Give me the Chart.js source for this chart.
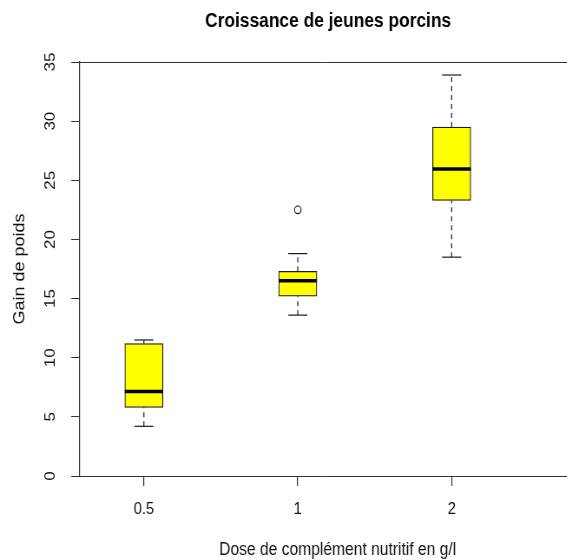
<!DOCTYPE html>
<html>
<head>
<meta charset="utf-8">
<script src="https://cdn.jsdelivr.net/npm/chart.js@4/dist/chart.umd.min.js"></script>
<style>
  html, body { margin: 0; padding: 0; background: #ffffff; overflow: hidden; }
  #wrap { position: absolute; left: 0; top: 0; width: 567px; height: 560px; overflow: hidden; }
  #c { display: block; transform: scaleX(0.868); transform-origin: 0 0; }
</style>
</head>
<body>
<div id="wrap"><canvas id="c" width="653" height="560"></canvas></div>
<script>
// Growth per supplement dose: five-number summaries of each group
const doses = ['0.5', '1', '2'];
const groupPos = [1, 2, 3];
const lowerWhisker = [4.2, 13.6, 18.5];
const lowerHinge = [5.8, 15.2, 23.3];
const medians = [7.15, 16.5, 25.95];
const upperHinge = [11.2, 17.3, 29.5];
const upperWhisker = [11.5, 18.8, 33.9];
const outlierPos = [2];
const outlierValue = [22.5];
const yTicks = [0, 5, 10, 15, 20, 25, 30, 35];

const FONT = "'Liberation Sans', Arial, Helvetica, sans-serif";
const INK = '#1a1a1a';
const AXIS = '#333333';
const BOX_W = 44;    // box width in canvas px
const CAP_HALF = 11; // half width of whisker caps

// whisker segments, split by null points so each group is its own segment
function whiskerSegments(from, to) {
  const pts = [];
  groupPos.forEach((x, i) => {
    pts.push({ x: x, y: from[i] });
    pts.push({ x: x, y: to[i] });
    pts.push({ x: x + 0.5, y: null });
  });
  return pts;
}

const frameAndText = {
  id: 'frameAndText',
  afterDraw(chart) {
    const { ctx, chartArea: a } = chart;
    ctx.save();
    // top frame line
    ctx.strokeStyle = AXIS;
    ctx.lineWidth = 1;
    ctx.beginPath();
    ctx.moveTo(a.left, a.top + 0.5);
    ctx.lineTo(a.right, a.top + 0.5);
    ctx.stroke();
    // main title
    ctx.fillStyle = '#000000';
    ctx.textAlign = 'center';
    ctx.textBaseline = 'alphabetic';
    ctx.font = 'bold 20px ' + FONT;
    ctx.fillText('Croissance de jeunes porcins', 378, 27);
    // x axis title
    ctx.font = '18px ' + FONT;
    ctx.fillStyle = '#111111';
    ctx.fillText('Dose de complément nutritif en g/l', 389, 555);
    ctx.restore();
  }
};

new Chart(document.getElementById('c'), {
  type: 'bar',
  data: {
    datasets: [
      {
        type: 'bar',
        label: 'Boîte',
        data: groupPos.map((x, i) => ({ x: x, y: [lowerHinge[i], upperHinge[i]] })),
        backgroundColor: '#ffff00',
        borderColor: INK,
        borderWidth: 1.2,
        borderSkipped: false,
        barThickness: BOX_W,
        order: 2
      },
      {
        type: 'line',
        label: 'Médiane',
        data: groupPos.map((x, i) => ({ x: x, y: medians[i] })),
        showLine: false,
        pointStyle: 'line',
        pointRadius: BOX_W / 2,
        pointBorderWidth: 3.5,
        pointBorderColor: '#000000',
        order: 1
      },
      {
        type: 'line',
        label: 'Moustache basse',
        data: whiskerSegments(lowerWhisker, lowerHinge),
        borderColor: INK,
        borderWidth: 1.2,
        borderDash: [5, 4],
        pointRadius: 0,
        spanGaps: false,
        order: 3
      },
      {
        type: 'line',
        label: 'Moustache haute',
        data: whiskerSegments(upperHinge, upperWhisker),
        borderColor: INK,
        borderWidth: 1.2,
        borderDash: [5, 4],
        pointRadius: 0,
        spanGaps: false,
        order: 3
      },
      {
        type: 'line',
        label: 'Extrémités',
        data: groupPos.map((x, i) => ({ x: x, y: lowerWhisker[i] }))
          .concat(groupPos.map((x, i) => ({ x: x, y: upperWhisker[i] }))),
        showLine: false,
        pointStyle: 'line',
        pointRadius: CAP_HALF,
        pointBorderWidth: 1.2,
        pointBorderColor: INK,
        order: 3
      },
      {
        type: 'line',
        label: 'Valeur atypique',
        data: outlierPos.map((x, i) => ({ x: x, y: outlierValue[i] })),
        showLine: false,
        pointStyle: 'circle',
        pointRadius: 3.8,
        pointBorderWidth: 1.1,
        pointBorderColor: INK,
        pointBackgroundColor: '#ffffff',
        order: 0
      }
    ]
  },
  options: {
    responsive: false,
    animation: false,
    devicePixelRatio: 1,
    layout: { autoPadding: false, padding: { top: 62, right: 0, left: 0, bottom: 0 } },
    plugins: { legend: { display: false }, tooltip: { enabled: false }, title: { display: false } },
    scales: {
      x: {
        type: 'linear',
        position: 'bottom',
        min: 0.584,
        max: 3.748,
        offset: false,
        afterFit(s) { s.height = 84; },
        afterBuildTicks(s) { s.ticks = groupPos.map(v => ({ value: v })); },
        grid: { display: true, offset: false, drawOnChartArea: false, drawTicks: true, tickLength: 10, color: AXIS, lineWidth: 1.2 },
        border: { display: true, color: AXIS, width: 1 },
        ticks: {
          color: '#111111',
          font: { family: FONT, size: 17 },
          padding: 13,
          maxRotation: 0,
          autoSkip: false,
          callback: (v, i) => doses[i]
        }
      },
      y: {
        type: 'linear',
        min: 0,
        max: 35,
        afterFit(s) { s.width = 92; },
        afterBuildTicks(s) { s.ticks = yTicks.map(v => ({ value: v })); },
        grid: { display: true, drawOnChartArea: false, drawTicks: true, tickLength: 10, color: AXIS, lineWidth: 1 },
        border: { display: true, color: AXIS, width: 1.2 },
        ticks: {
          color: '#111111',
          font: { family: FONT, size: 17 },
          minRotation: 90,
          maxRotation: 90,
          crossAlign: 'center',
          padding: 14,
          autoSkip: false,
          callback: (v) => String(v)
        },
        title: {
          display: true,
          text: 'Gain de poids',
          color: '#111111',
          font: { family: FONT, size: 18 },
          padding: { top: 12, bottom: 0 }
        }
      }
    }
  },
  plugins: [frameAndText]
});
</script>
</body>
</html>
